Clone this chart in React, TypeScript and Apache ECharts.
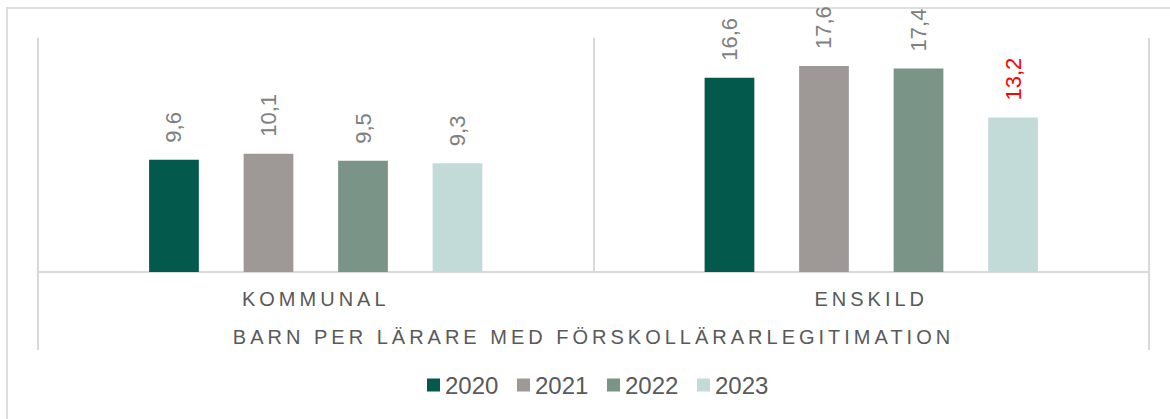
import React, { useEffect, useRef } from "react";
import * as echarts from "echarts";

const categories = ["KOMMUNAL", "ENSKILD"];
const groupLabels = ["BARN PER LÄRARE MED FÖRSKOLLÄRARLEGITIMATION"];
const years = ["2020", "2021", "2022", "2023"];
const values2020 = [9.6, 16.6];
const values2021 = [10.1, 17.6];
const values2022 = [9.5, 17.4];
const values2023 = [9.3, 13.2];
const seriesValues = [values2020, values2021, values2022, values2023];
const colors = ["#03594B", "#9E9997", "#7B9488", "#C3DBD8"];
const highlighted = { series: 3, category: 1 };

const FONT = 'Arial, "Liberation Sans", sans-serif';
const LINE = "#d9d9d9";

export default function App() {
  const ref = useRef<HTMLDivElement>(null);

  useEffect(() => {
    if (!ref.current) return;
    const chart = echarts.init(ref.current, undefined, { renderer: "svg" });
    const fmt = (v: number) => v.toFixed(1).replace(".", ",");
    const series = years.map((y, si) => ({
      name: y,
      type: "bar",
      xAxisIndex: 0,
      barGap: "90%",
      barCategoryGap: "40%",
      itemStyle: { color: colors[si] },
      label: {
        show: true,
        position: "top",
        distance: 17,
        rotate: 90,
        align: "left",
        verticalAlign: "middle",
        fontSize: 22,
        fontFamily: FONT,
        color: "#808080",
        formatter: (p: any) => fmt(p.value),
      },
      data: seriesValues[si].map((v, ci) =>
        si === highlighted.series && ci === highlighted.category
          ? { value: v, label: { color: "#ff0000" } }
          : v
      ),
    }));
    chart.setOption({
      animation: false,
      backgroundColor: "#ffffff",
      grid: { left: 38, right: 21, top: 38, bottom: 147 },
      legend: {
        data: years,
        icon: "rect",
        itemWidth: 13,
        itemHeight: 13,
        itemGap: 18.6,
        padding: 0,
        left: 427,
        top: 373,
        textStyle: { fontSize: 24, color: "#595959", fontFamily: FONT },
      },
      xAxis: [
        {
          type: "category",
          data: categories,
          position: "bottom",
          axisLine: { show: true, lineStyle: { color: LINE, width: 2 } },
          axisTick: { show: false },
          splitLine: { show: true, lineStyle: { color: LINE, width: 2 } },
          axisLabel: {
            margin: 17,
            fontSize: 20,
            color: "#595959",
            fontFamily: FONT,
          },
        },
        {
          type: "category",
          data: groupLabels,
          position: "bottom",
          offset: 0,
          axisLine: { show: false },
          axisTick: { show: true, length: 78, lineStyle: { color: LINE, width: 2 } },
          splitLine: { show: false },
          axisLabel: {
            margin: 55,
            fontSize: 20,
            color: "#595959",
            fontFamily: FONT,
          },
        },
      ],
      yAxis: {
        type: "value",
        min: 0,
        max: 20,
        show: false,
        splitLine: { show: false },
      },
      graphic: [
        {
          type: "rect",
          shape: { x: 7, y: 8, width: 1200, height: 600 },
          style: { fill: "none", stroke: "#dedede", lineWidth: 2 },
          silent: true,
        },
      ],
      series,
    });
    return () => chart.dispose();
  }, []);

  return (
    <>
      <style>{`.chart-root text[style*="20px"] { letter-spacing: 4px; }`}</style>
      <div
        ref={ref}
        className="chart-root"
        style={{ position: "absolute", left: 0, top: 0, width: 1170, height: 419 }}
      />
    </>
  );
}
